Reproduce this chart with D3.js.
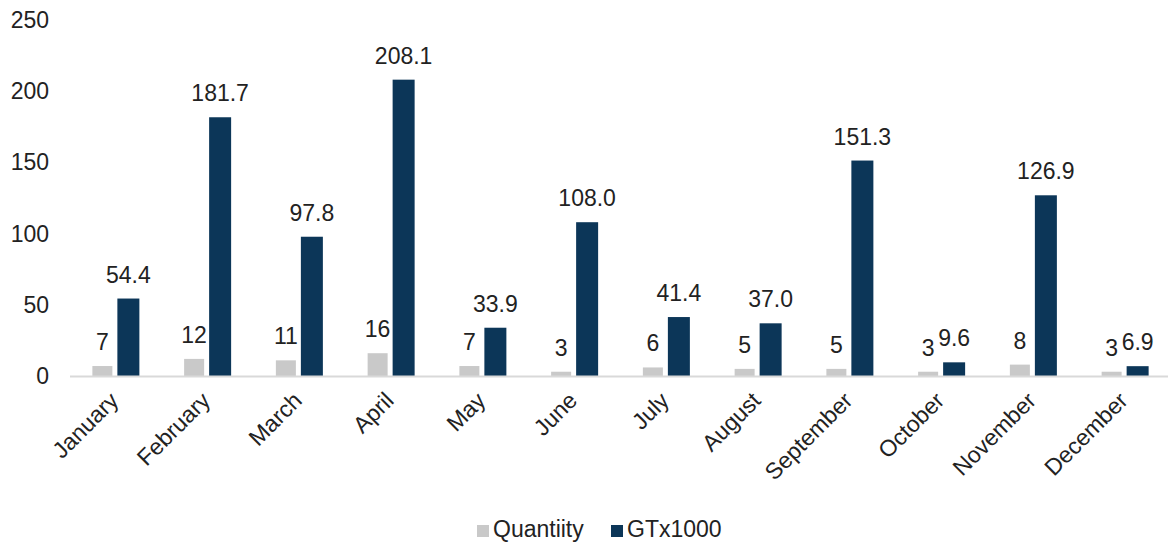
<!DOCTYPE html>
<html>
<head>
<meta charset="utf-8">
<script src="https://cdn.jsdelivr.net/npm/d3@7"></script>
<style>
  html, body { margin: 0; padding: 0; background: #fff; }
  svg { display: block; font-family: "Liberation Sans", Arial, sans-serif; }
</style>
</head>
<body>
<svg id="chart" width="1168" height="548"></svg>
<script>
const months = ["January", "February", "March", "April", "May", "June",
  "July", "August", "September", "October", "November", "December"];
const quantity = [7, 12, 11, 16, 7, 3, 6, 5, 5, 3, 8, 3];
const gtx1000 = [54.4, 181.7, 97.8, 208.1, 33.9, 108.0, 41.4, 37.0, 151.3, 9.6, 126.9, 6.9];
const yTicks = [0, 50, 100, 150, 200, 250];
const seriesNames = ["Quantiity", "GTx1000"];
const seriesColors = ["#c9c9c9", "#0c3658"];

const svg = d3.select("#chart");
const FS = 23;
const margin = { left: 70, right: 0, top: 20, bottom: 172 };
const W = 1168, H = 548;
const plotBottom = H - margin.bottom; // y of zero line

const x = d3.scaleBand().domain(months).range([margin.left, 1171]).padding(0);
const y = d3.scaleLinear().domain([0, 250]).range([plotBottom, margin.top]);

// y axis labels (no line, no ticks)
svg.append("g")
  .selectAll("text")
  .data(yTicks)
  .join("text")
  .attr("x", 49)
  .attr("y", d => y(d))
  .attr("dy", "0.35em")
  .attr("text-anchor", "end")
  .attr("font-size", FS)
  .attr("fill", "#222")
  .text(d => d);

const barW = [20, 22];
const gap = 5;
const totalW = barW[0] + gap + barW[1];
const offsets = [-totalW / 2, -totalW / 2 + barW[0] + gap];
const series = [quantity, gtx1000];
const fmt = [d => d3.format("d")(d), d => d3.format(".1f")(d)];

series.forEach((vals, si) => {
  const g = svg.append("g");
  g.selectAll("rect")
    .data(vals)
    .join("rect")
    .attr("x", (d, i) => x(months[i]) + x.bandwidth() / 2 + offsets[si])
    .attr("y", d => y(d))
    .attr("width", barW[si])
    .attr("height", d => plotBottom - y(d))
    .attr("fill", seriesColors[si]);
  g.selectAll("text")
    .data(vals)
    .join("text")
    .attr("x", (d, i) => x(months[i]) + x.bandwidth() / 2 + offsets[si] + barW[si] / 2)
    .attr("y", d => y(d) - 16)
    .attr("text-anchor", "middle")
    .attr("font-size", FS)
    .attr("fill", "#222")
    .text(fmt[si]);
});

// baseline
svg.append("line")
  .attr("x1", margin.left).attr("x2", W)
  .attr("y1", plotBottom + 0.5).attr("y2", plotBottom + 0.5)
  .attr("stroke", "#d9d9d9").attr("stroke-width", 2);

// category labels, rotated
svg.append("g")
  .selectAll("text")
  .data(months)
  .join("text")
  .attr("transform", d => `translate(${x(d) + x.bandwidth() / 2 + 4},${plotBottom + 26}) rotate(-45)`)
  .attr("text-anchor", "end")
  .attr("font-size", FS)
  .attr("fill", "#222")
  .text(d => d);

// legend
const legend = svg.append("g");
const legendItems = [
  { name: seriesNames[0], color: seriesColors[0], x: 477 },
  { name: seriesNames[1], color: seriesColors[1], x: 611 }
];
legendItems.forEach(it => {
  legend.append("rect")
    .attr("x", it.x).attr("y", 525)
    .attr("width", 12).attr("height", 12)
    .attr("fill", it.color);
  legend.append("text")
    .attr("x", it.x + 16).attr("y", 537)
    .attr("font-size", FS)
    .attr("fill", "#222")
    .text(it.name);
});
</script>
</body>
</html>
